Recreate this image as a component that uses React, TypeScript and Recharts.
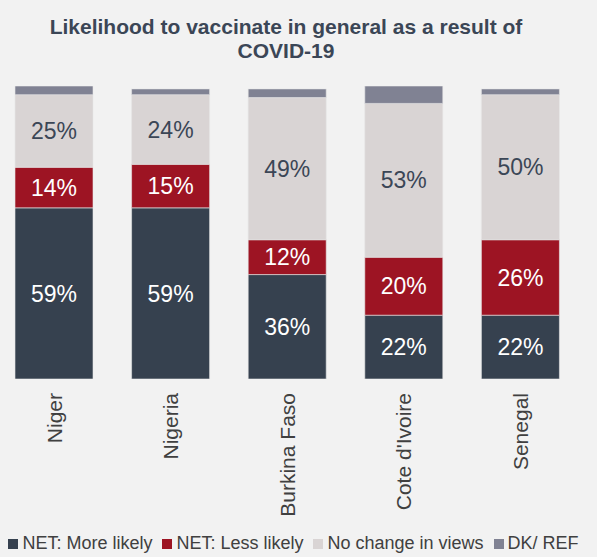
import React from "react";
import {
  BarChart,
  Bar,
  XAxis,
  YAxis,
  Legend,
  LabelList,
} from "recharts";

const categories = ["Niger", "Nigeria", "Burkina Faso", "Cote d'Ivoire", "Senegal"];
const moreLikely = [59, 59, 36, 22, 22];
const lessLikely = [14, 15, 12, 20, 26];
const noChange = [25, 24, 49, 53, 50];
const dkRef = [3, 2, 3, 6, 2];
const seriesNames = ["NET: More likely", "NET: Less likely", "No change in views", "DK/ REF"];
const boundaryTicks = [0, 1, 2, 3, 4, 5];

const data = categories.map((name, i) => ({
  name,
  more: moreLikely[i],
  less: lessLikely[i],
  none: noChange[i],
  dk: dkRef[i],
}));

const FONT = "'Liberation Sans', Arial, sans-serif";
const pct = (v: any) => `${v}%`;

function CategoryTick(props: any) {
  const { x, y, payload } = props;
  return (
    <g transform={`translate(${x},${y})`}>
      <text
        transform="rotate(-90)"
        textAnchor="end"
        dy="0.35em"
        fill="#404040"
        fontSize={21}
        fontFamily={FONT}
      >
        {payload.value}
      </text>
    </g>
  );
}

export default function App() {
  return (
    <div
      style={{
        position: "absolute",
        left: 0,
        top: 0,
        width: 597,
        height: 557,
        background: "#f2f2f2",
        fontFamily: FONT,
      }}
    >
      <div
        style={{
          position: "absolute",
          left: 0,
          top: 15,
          width: 572,
          textAlign: "center",
          fontWeight: "bold",
          fontSize: 21,
          lineHeight: "24px",
          color: "#3b4656",
        }}
      >
        Likelihood to vaccinate in general as a result of
        <br />
        COVID-19
      </div>
      <BarChart
        width={597}
        height={557}
        data={data}
        margin={{ top: 86, right: 18, left: -4, bottom: 3 }}
        barSize={78}
      >
        <XAxis
          xAxisId="grid"
          type="number"
          domain={[0, 5]}
          ticks={boundaryTicks}
          allowDataOverflow
          height={0}
          stroke="#d9d9d9"
          tickSize={6}
          tickFormatter={() => ""}
        />
        <XAxis
          dataKey="name"
          height={153}
          axisLine={false}
          tickLine={false}
          tickSize={0}
          tickMargin={14}
          interval={0}
          tick={<CategoryTick />}
        />
        <YAxis hide domain={[0, 101]} allowDataOverflow />
        <Legend
          verticalAlign="bottom"
          iconType="square"
          iconSize={10}
          itemSorter={(item: any) => seriesNames.indexOf(item.value)}
          wrapperStyle={{ fontSize: 18, lineHeight: "22px", left: 0, width: 597 }}
          formatter={(value) => <span style={{ color: "#404040" }}>{value}</span>}
        />
        <Bar dataKey="more" name={seriesNames[0]} stackId="a" fill="#36414f" stroke="#e6e6e6" strokeWidth={0.6} isAnimationActive={false}>
          <LabelList dataKey="more" position="center" formatter={pct} fill="#ffffff" fontSize={23} fontFamily={FONT} />
        </Bar>
        <Bar dataKey="less" name={seriesNames[1]} stackId="a" fill="#9d1423" stroke="#e6e6e6" strokeWidth={0.6} isAnimationActive={false}>
          <LabelList dataKey="less" position="center" formatter={pct} fill="#ffffff" fontSize={23} fontFamily={FONT} />
        </Bar>
        <Bar dataKey="none" name={seriesNames[2]} stackId="a" fill="#d9d4d4" stroke="#e6e6e6" strokeWidth={0.6} isAnimationActive={false}>
          <LabelList dataKey="none" position="center" formatter={pct} fill="#3b4656" fontSize={23} fontFamily={FONT} />
        </Bar>
        <Bar dataKey="dk" name={seriesNames[3]} stackId="a" fill="#808293" stroke="#e6e6e6" strokeWidth={0.6} isAnimationActive={false} />
      </BarChart>
    </div>
  );
}
